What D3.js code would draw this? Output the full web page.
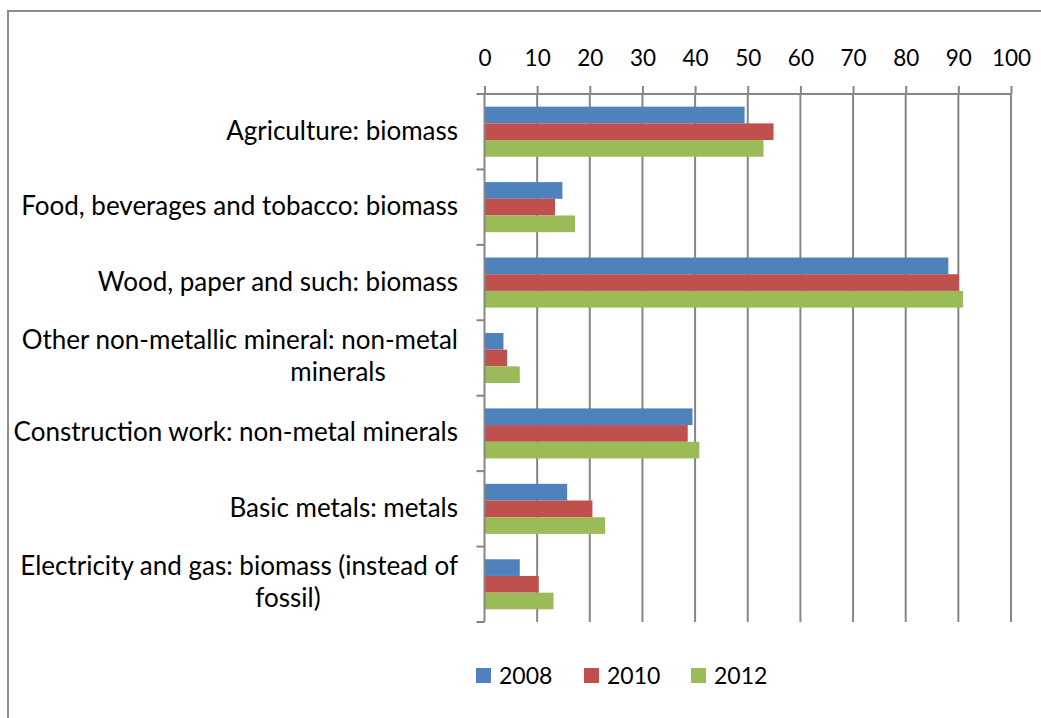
<!DOCTYPE html>
<meta charset="utf-8">
<style>
    body { margin: 0; background: #fff; }
    text { font-family: Lato, "Open Sans", sans-serif; fill: #000; }
    .grid line { stroke: #868686; stroke-width: 2px; }
    .axis path, .axis line { stroke: #868686; stroke-width: 2px; }
</style>
<body>
<svg id="chart" width="1041" height="718"></svg>
</body>
<script src="https://d3js.org/d3.v7.min.js"></script>
<script>

    var categories = [
        "Agriculture: biomass",
        "Food, beverages and tobacco: biomass",
        "Wood, paper and such: biomass",
        "Other non-metallic mineral: non-metal|minerals",
        "Construction work: non-metal minerals",
        "Basic metals: metals",
        "Electricity and gas: biomass (instead of|fossil)"
    ];
    var series = ["2008", "2010", "2012"];
    var values2008 = [49.4, 14.8, 88.1, 3.6, 39.5, 15.7, 6.7];
    var values2010 = [54.9, 13.4, 90.1, 4.3, 38.6, 20.5, 10.3];
    var values2012 = [53.0, 17.2, 90.9, 6.7, 40.8, 22.9, 13.1];
    var xTicks = [0, 10, 20, 30, 40, 50, 60, 70, 80, 90, 100];
    var colors = ["#4F81BD", "#C0504D", "#9BBB59"];

    var allValues = [values2008, values2010, values2012];

    var svg = d3.select("#chart");

    // outer chart frame
    svg.append("rect")
        .attr("x", 8).attr("y", 11)
        .attr("width", 1100).attr("height", 800)
        .attr("fill", "none")
        .attr("stroke", "#8c8c8c")
        .attr("stroke-width", 2);

    // plot area (window.top is reserved, so use own names)
    var plotLeft = 484.5, plotRight = 1011, plotTop = 94, plotBottom = 622;

    var x = d3.scaleLinear().domain([0, 100]).range([plotLeft, plotRight]);
    var y0 = d3.scaleBand().domain(categories).range([plotTop, plotBottom]).padding(0);
    var y1 = d3.scaleBand().domain(series).range([0, y0.bandwidth()])
        .paddingInner(0).paddingOuter(0.76);

    // vertical gridlines
    svg.append("g").attr("class", "grid")
        .selectAll("line")
        .data(xTicks.slice(1))
        .enter().append("line")
        .attr("x1", function (d) { return x(d); })
        .attr("x2", function (d) { return x(d); })
        .attr("y1", plotTop)
        .attr("y2", plotBottom);

    // bars
    series.forEach(function (s, i) {
        svg.append("g")
            .selectAll("rect")
            .data(allValues[i])
            .enter().append("rect")
            .attr("x", x(0))
            .attr("y", function (d, j) { return y0(categories[j]) + y1(s); })
            .attr("width", function (d) { return x(d) - x(0); })
            .attr("height", y1.bandwidth())
            .attr("fill", colors[i]);
    });

    // top axis
    var xAxis = d3.axisTop(x).tickValues(xTicks).tickSize(8).tickPadding(20)
        .tickSizeOuter(0);
    var gx = svg.append("g").attr("class", "axis")
        .attr("transform", "translate(0," + plotTop + ")")
        .call(xAxis);
    gx.select(".domain").attr("d", "M" + (plotLeft - 8) + ",0H" + plotRight);
    gx.selectAll("text").style("font-size", "22.5px").attr("fill", "#000");

    // left axis line with band ticks
    var gy = svg.append("g").attr("class", "axis")
        .attr("transform", "translate(" + plotLeft + ",0)");
    gy.append("line")
        .attr("x1", 0).attr("x2", 0)
        .attr("y1", plotTop).attr("y2", plotBottom);
    gy.selectAll(".btick")
        .data(categories.slice(1).concat(["end"]))
        .enter().append("line")
        .attr("x1", -8).attr("x2", 0)
        .attr("y1", function (d) { return d === "end" ? plotBottom : y0(d); })
        .attr("y2", function (d) { return d === "end" ? plotBottom : y0(d); });

    // category labels (Excel style wrapping)
    var labelSize = "26px";
    var wrapCenters = { 3: 338, 6: 288 };
    categories.forEach(function (c, i) {
        var lines = c.split("|");
        var cy = y0(c) + y0.bandwidth() / 2;
        if (lines.length === 1) {
            svg.append("text")
                .attr("x", 458).attr("y", cy + 8)
                .attr("text-anchor", "end")
                .style("font-size", labelSize)
                .text(lines[0]);
        } else {
            svg.append("text")
                .attr("x", 458).attr("y", cy - 9)
                .attr("text-anchor", "end")
                .style("font-size", labelSize)
                .text(lines[0]);
            svg.append("text")
                .attr("x", wrapCenters[i]).attr("y", cy + 23)
                .attr("text-anchor", "middle")
                .style("font-size", labelSize)
                .text(lines[1]);
        }
    });

    // legend
    var legendX = [476, 584, 691];
    var legend = svg.append("g");
    series.forEach(function (s, i) {
        legend.append("rect")
            .attr("x", legendX[i]).attr("y", 668)
            .attr("width", 15).attr("height", 15)
            .attr("fill", colors[i]);
        legend.append("text")
            .attr("x", legendX[i] + 23).attr("y", 684)
            .style("font-size", "23px")
            .text(s);
    });

</script>
